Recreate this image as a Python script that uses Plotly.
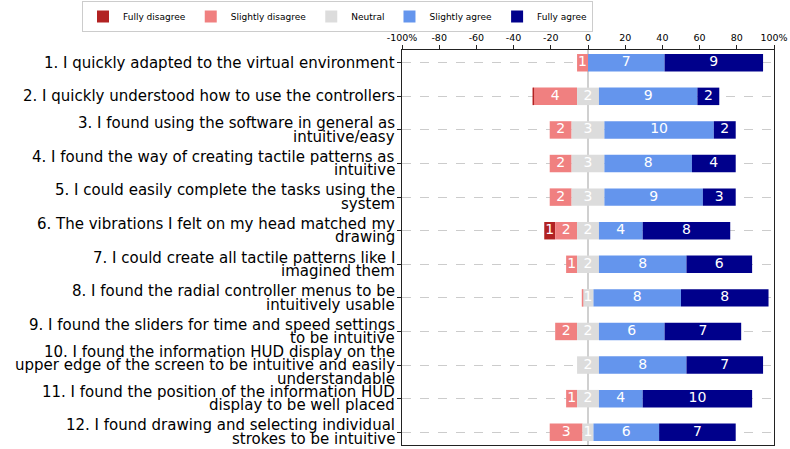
import plotly.graph_objects as go

questions = [
    "1. I quickly adapted to the virtual environment",
    "2. I quickly understood how to use the controllers",
    "3. I found using the software in general as<br>intuitive/easy",
    "4. I found the way of creating tactile patterns as<br>intuitive",
    "5. I could easily complete the tasks using the<br>system",
    "6. The vibrations I felt on my head matched my<br>drawing",
    "7. I could create all tactile patterns like I<br>imagined them",
    "8. I found the radial controller menus to be<br>intuitively usable",
    "9. I found the sliders for time and speed settings<br>to be intuitive",
    "10. I found the information HUD display on the<br>upper edge of the screen to be intuitive and easily<br>understandable",
    "11. I found the position of the information HUD<br>display to be well placed",
    "12. I found drawing and selecting individual<br>strokes to be intuitive",
]

levels = ["Fully disagree", "Slightly disagree", "Neutral", "Slightly agree", "Fully agree"]
colors = ["#b22222", "#f08080", "#dcdcdc", "#6495ed", "#00008b"]

fully_disagree    = [0, 0, 0, 0, 0, 1, 0, 0, 0, 0, 0, 0]
slightly_disagree = [1, 4, 2, 2, 2, 2, 1, 0, 2, 0, 1, 3]
neutral           = [0, 2, 3, 3, 3, 2, 2, 1, 2, 2, 2, 1]
slightly_agree    = [7, 9, 10, 8, 9, 4, 8, 8, 6, 8, 4, 6]
fully_agree       = [9, 2, 2, 4, 3, 8, 6, 8, 7, 7, 10, 7]

# zero-width bars that are still drawn as thin lines in the reference
zero_lines = {"Fully disagree": [1], "Slightly disagree": [7]}

tick_vals = [-100, -80, -60, -40, -20, 0, 20, 40, 60, 80, 100]
tick_text = ["-100%", "-80", "-60", "-40", "-20", "0", "20", "40", "60", "80", "100%"]

counts = [fully_disagree, slightly_disagree, neutral, slightly_agree, fully_agree]
n_rows = len(questions)
totals = [sum(c[i] for c in counts) for i in range(n_rows)]
pct = [[c[i] * 100.0 / totals[i] for i in range(n_rows)] for c in counts]

# bases for the diverging layout
bases = [[0.0] * n_rows for _ in levels]
for i in range(n_rows):
    nh = pct[2][i] / 2
    bases[2][i] = -nh
    bases[1][i] = -nh - pct[1][i]
    bases[0][i] = bases[1][i] - pct[0][i]
    bases[3][i] = nh
    bases[4][i] = nh + pct[3][i]

ypos = list(range(n_rows))
BAR_W = 0.52
fig = go.Figure()
font_family = "DejaVu Sans"
for k, lev in enumerate(levels):
    fig.add_trace(go.Bar(
        y=ypos, x=pct[k], base=bases[k], orientation="h",
        name=lev, marker=dict(color=colors[k], line=dict(width=0)),
        width=BAR_W, legendrank=k + 1, hoverinfo="skip",
    ))
    if lev in zero_lines:
        rows = zero_lines[lev]
        fig.add_trace(go.Scatter(
            x=[bases[k][r] for r in rows for _ in (0, 1)],
            y=[v for r in rows for v in (r - BAR_W / 2, r + BAR_W / 2)],
            mode="lines", line=dict(color=colors[k], width=1.5),
            showlegend=False, hoverinfo="skip",
        ))

# count labels
tx, ty, tt = [], [], []
for k in range(len(levels)):
    for i in range(n_rows):
        if counts[k][i] > 0:
            tx.append(bases[k][i] + pct[k][i] / 2)
            ty.append(i)
            tt.append(str(counts[k][i]))
fig.add_trace(go.Scatter(
    x=tx, y=ty, text=tt, mode="text",
    textfont=dict(color="white", size=14, family=font_family),
    showlegend=False, hoverinfo="skip",
))

# question labels, one annotation per line for tight line spacing
LINE_H = 13.5
annotations = []
for i, q in enumerate(questions):
    lines = q.split("<br>")
    n = len(lines)
    for j, ln in enumerate(lines):
        annotations.append(dict(
            xref="paper", yref="y", x=0, y=i, xanchor="right", yanchor="middle",
            xshift=-6, yshift=((n - 1) / 2 - j) * LINE_H,
            text=ln, showarrow=False, borderpad=0,
            font=dict(size=15, family=font_family, color="black"),
        ))

W, H = 790, 449
ml, mr, mt, mb = 402, 16, 50, 4
pw, ph = W - ml - mr, H - mt - mb
fig.update_layout(
    width=W, height=H,
    margin=dict(l=ml, r=mr, t=mt, b=mb, autoexpand=False),
    barmode="overlay",
    plot_bgcolor="white", paper_bgcolor="white",
    font=dict(family=font_family, color="black"),
    showlegend=True,
    annotations=annotations,
    legend=dict(
        orientation="h",
        x=(82 - ml) / pw, y=1 + (mt - 1) / ph,
        xanchor="left", yanchor="top",
        bordercolor="#cccccc", borderwidth=1, bgcolor="white",
        font=dict(size=9, family=font_family),
        traceorder="normal", itemwidth=30,
    ),
    xaxis=dict(
        side="top", range=[-100, 100], tickvals=tick_vals, ticktext=tick_text,
        showgrid=False, zeroline=True, zerolinecolor="#d0d0d0", zerolinewidth=2,
        showline=True, linecolor="#222222", linewidth=1, mirror=True,
        ticks="outside", ticklen=4, tickcolor="#222222", automargin=False,
        tickfont=dict(size=9.5, family=font_family),
    ),
    yaxis=dict(
        range=[n_rows - 1 + 0.38, -0.38], tickvals=ypos,
        ticktext=[""] * n_rows,
        showgrid=True, gridcolor="#cccccc", griddash="dash", gridwidth=1,
        zeroline=False, automargin=False,
        showline=True, linecolor="#222222", linewidth=1, mirror=True,
        ticks="outside", ticklen=4, tickcolor="#222222",
    ),
)

fig.write_html(
    "out.html",
    config={"displayModeBar": False},
    post_script="document.body.style.margin='0';document.body.style.padding='0';",
)
